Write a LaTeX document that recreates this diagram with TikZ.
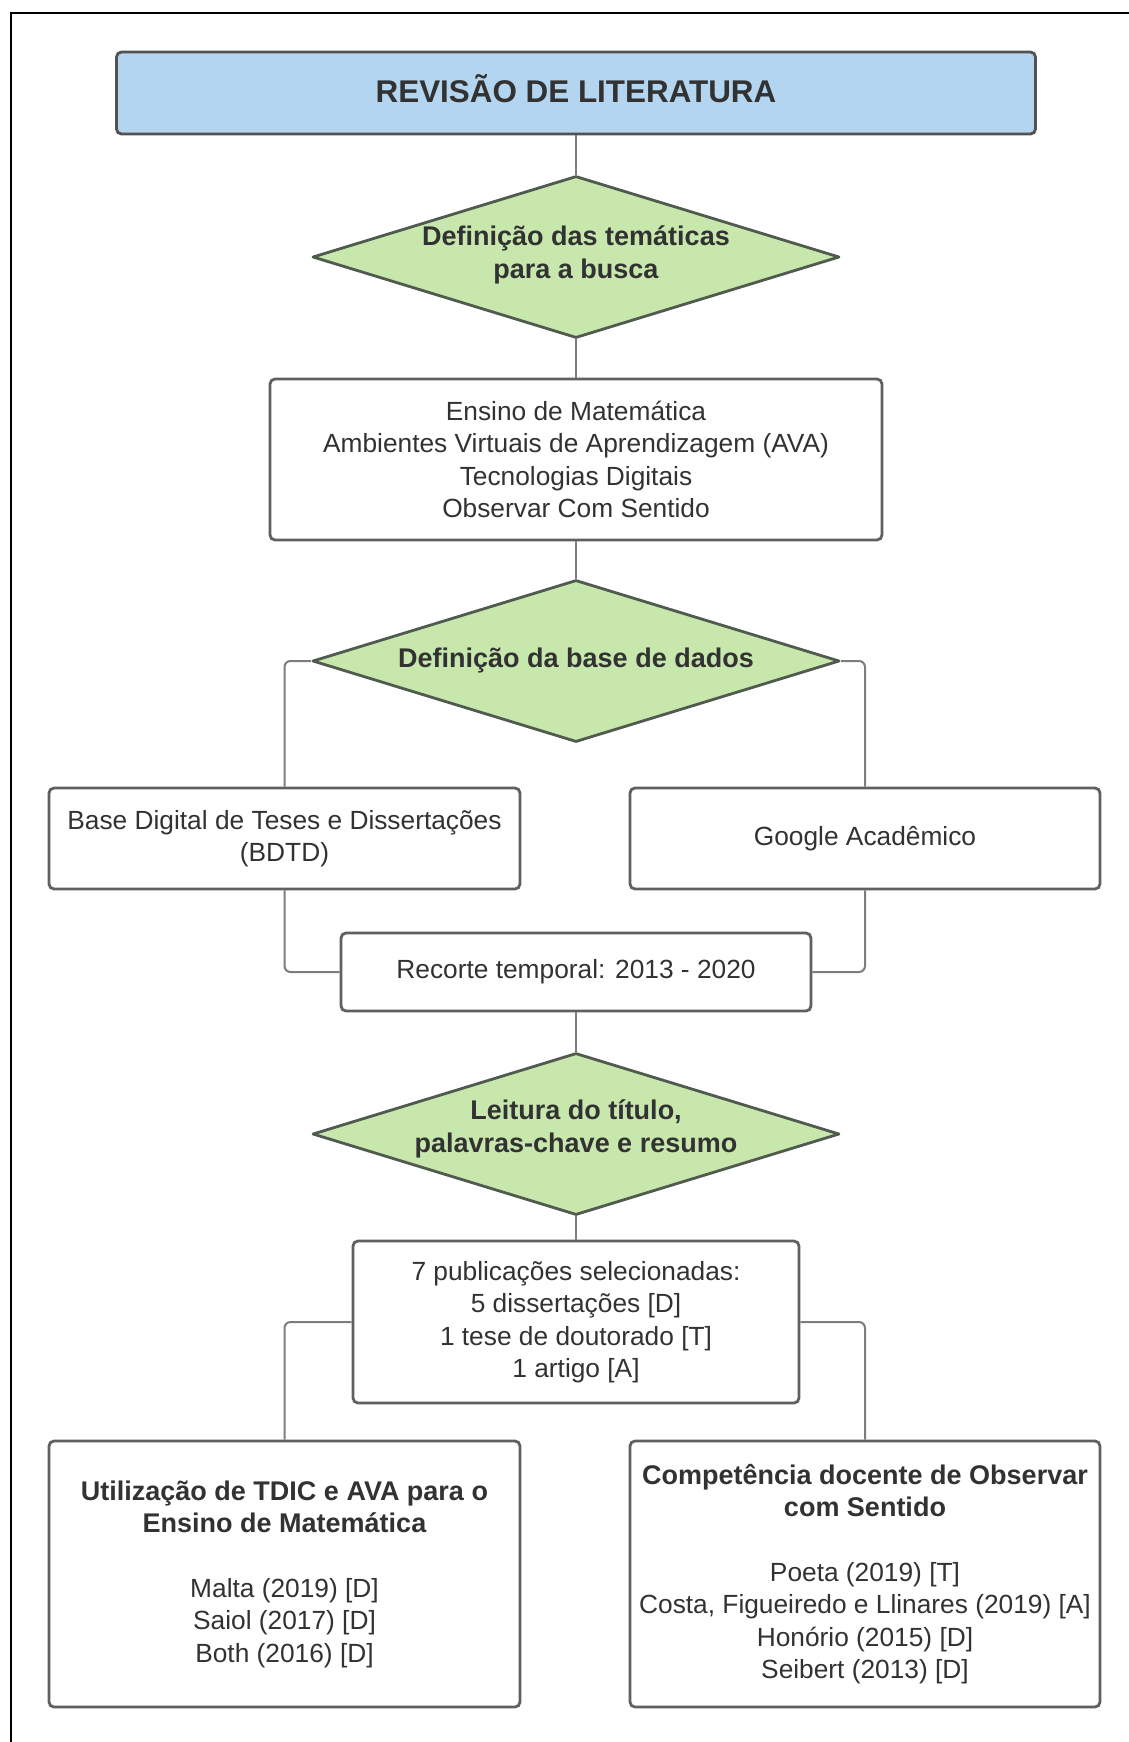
\documentclass[tikz,border=0pt]{standalone}
\usepackage{fontspec}
\setmainfont{Liberation Sans}
\usetikzlibrary{shapes.geometric}
\definecolor{titleblue}{RGB}{179,213,239}
\definecolor{decgreen}{RGB}{199,231,173}
\definecolor{boxline}{RGB}{96,96,96}
\definecolor{decline}{RGB}{80,90,78}
\definecolor{linkgray}{RGB}{125,125,125}
\definecolor{txtgray}{RGB}{50,50,50}
\newcommand\hdtext[1]{{\fontsize{13.5pt}{16.2pt}\selectfont\bfseries #1}}
\tikzset{
  box/.style={draw=boxline, line width=1.4pt, rounded corners=2.5pt, fill=white,
    align=center, text=txtgray, inner sep=0pt,
    font=\fontsize{13.15pt}{16.2pt}\selectfont},
  decision/.style={diamond, aspect=3.25, draw=decline, line width=1.4pt,
    line join=round, fill=decgreen, inner sep=-4pt, align=center, text=txtgray,
    minimum width=263.5pt, minimum height=81pt,
    font=\fontsize{13.5pt}{16.5pt}\selectfont\bfseries},
  link/.style={draw=linkgray, line width=1pt, rounded corners=3pt}
}
\begin{document}
\begin{tikzpicture}[x=0.5pt,y=-0.5pt]
\useasboundingbox (0,0) rectangle (1129,1742);
\draw[line width=1pt] (11,1742) -- (11,13) -- (1129,13);
\node[box, fill=titleblue, draw=boxline!85!black, minimum width=459.5pt, minimum height=41pt,
  text depth=4.4pt, font=\fontsize{15.7pt}{19pt}\selectfont\bfseries] (title) at (576,93) {REVISÃO DE LITERATURA};
\node[decision, text depth=4.9pt] (temasdec) at (576,257) {Definição das temáticas\\para a busca};
\node[box, minimum width=306pt, minimum height=80.5pt] (temas) at (576,459.5)
  {Ensino de Matemática\\Ambientes Virtuais de Aprendizagem (AVA)\\Tecnologias Digitais\\Observar Com Sentido};
\node[decision] (basedec) at (576,661) {Definição da base de dados};
\node[box, minimum width=235.5pt, minimum height=50.5pt] (bdtd) at (284.5,838.5)
  {Base Digital de Teses e Dissertações\\(BDTD)};
\node[box, minimum width=235pt, minimum height=50.5pt] (google) at (865,838.5) {Google Acadêmico};
\node[box, minimum width=235pt, minimum height=39pt] (recorte) at (576,972) {Recorte temporal: 2013 - 2020};
\node[decision, text depth=8.4pt] (leitura) at (576,1134) {Leitura do título,\\palavras-chave e resumo};
\node[box, minimum width=223pt, minimum height=81pt] (pubs) at (576,1322)
  {7 publicações selecionadas:\\5 dissertações [D]\\1 tese de doutorado [T]\\1 artigo [A]};
\node[box, minimum width=235.5pt, minimum height=133pt] (tdic) at (284.5,1574)
  {\hdtext{Utilização de TDIC e AVA para o}\\\hdtext{Ensino de Matemática}\\[16.2pt]
   Malta (2019) [D]\\Saiol (2017) [D]\\Both (2016) [D]};
\node[box, minimum width=235pt, minimum height=133pt] (observar) at (865,1574)
  {\hdtext{Competência docente de Observar}\\\hdtext{com Sentido}\\[16.2pt]
   Poeta (2019) [T]\\Costa, Figueiredo e Llinares (2019) [A]\\Honório (2015) [D]\\Seibert (2013) [D]};
\draw[link] (title.south) -- (temasdec.north);
\draw[link] (temasdec.south) -- (temas.north);
\draw[link] (temas.south) -- (basedec.north);
\draw[link] (basedec.west) -| (bdtd.north);
\draw[link] (basedec.east) -| (google.north);
\draw[link] (bdtd.south) |- (recorte.west);
\draw[link] (google.south) |- (recorte.east);
\draw[link] (recorte.south) -- (leitura.north);
\draw[link] (leitura.south) -- (pubs.north);
\draw[link] (pubs.west) -| (tdic.north);
\draw[link] (pubs.east) -| (observar.north);
\end{tikzpicture}
\end{document}
